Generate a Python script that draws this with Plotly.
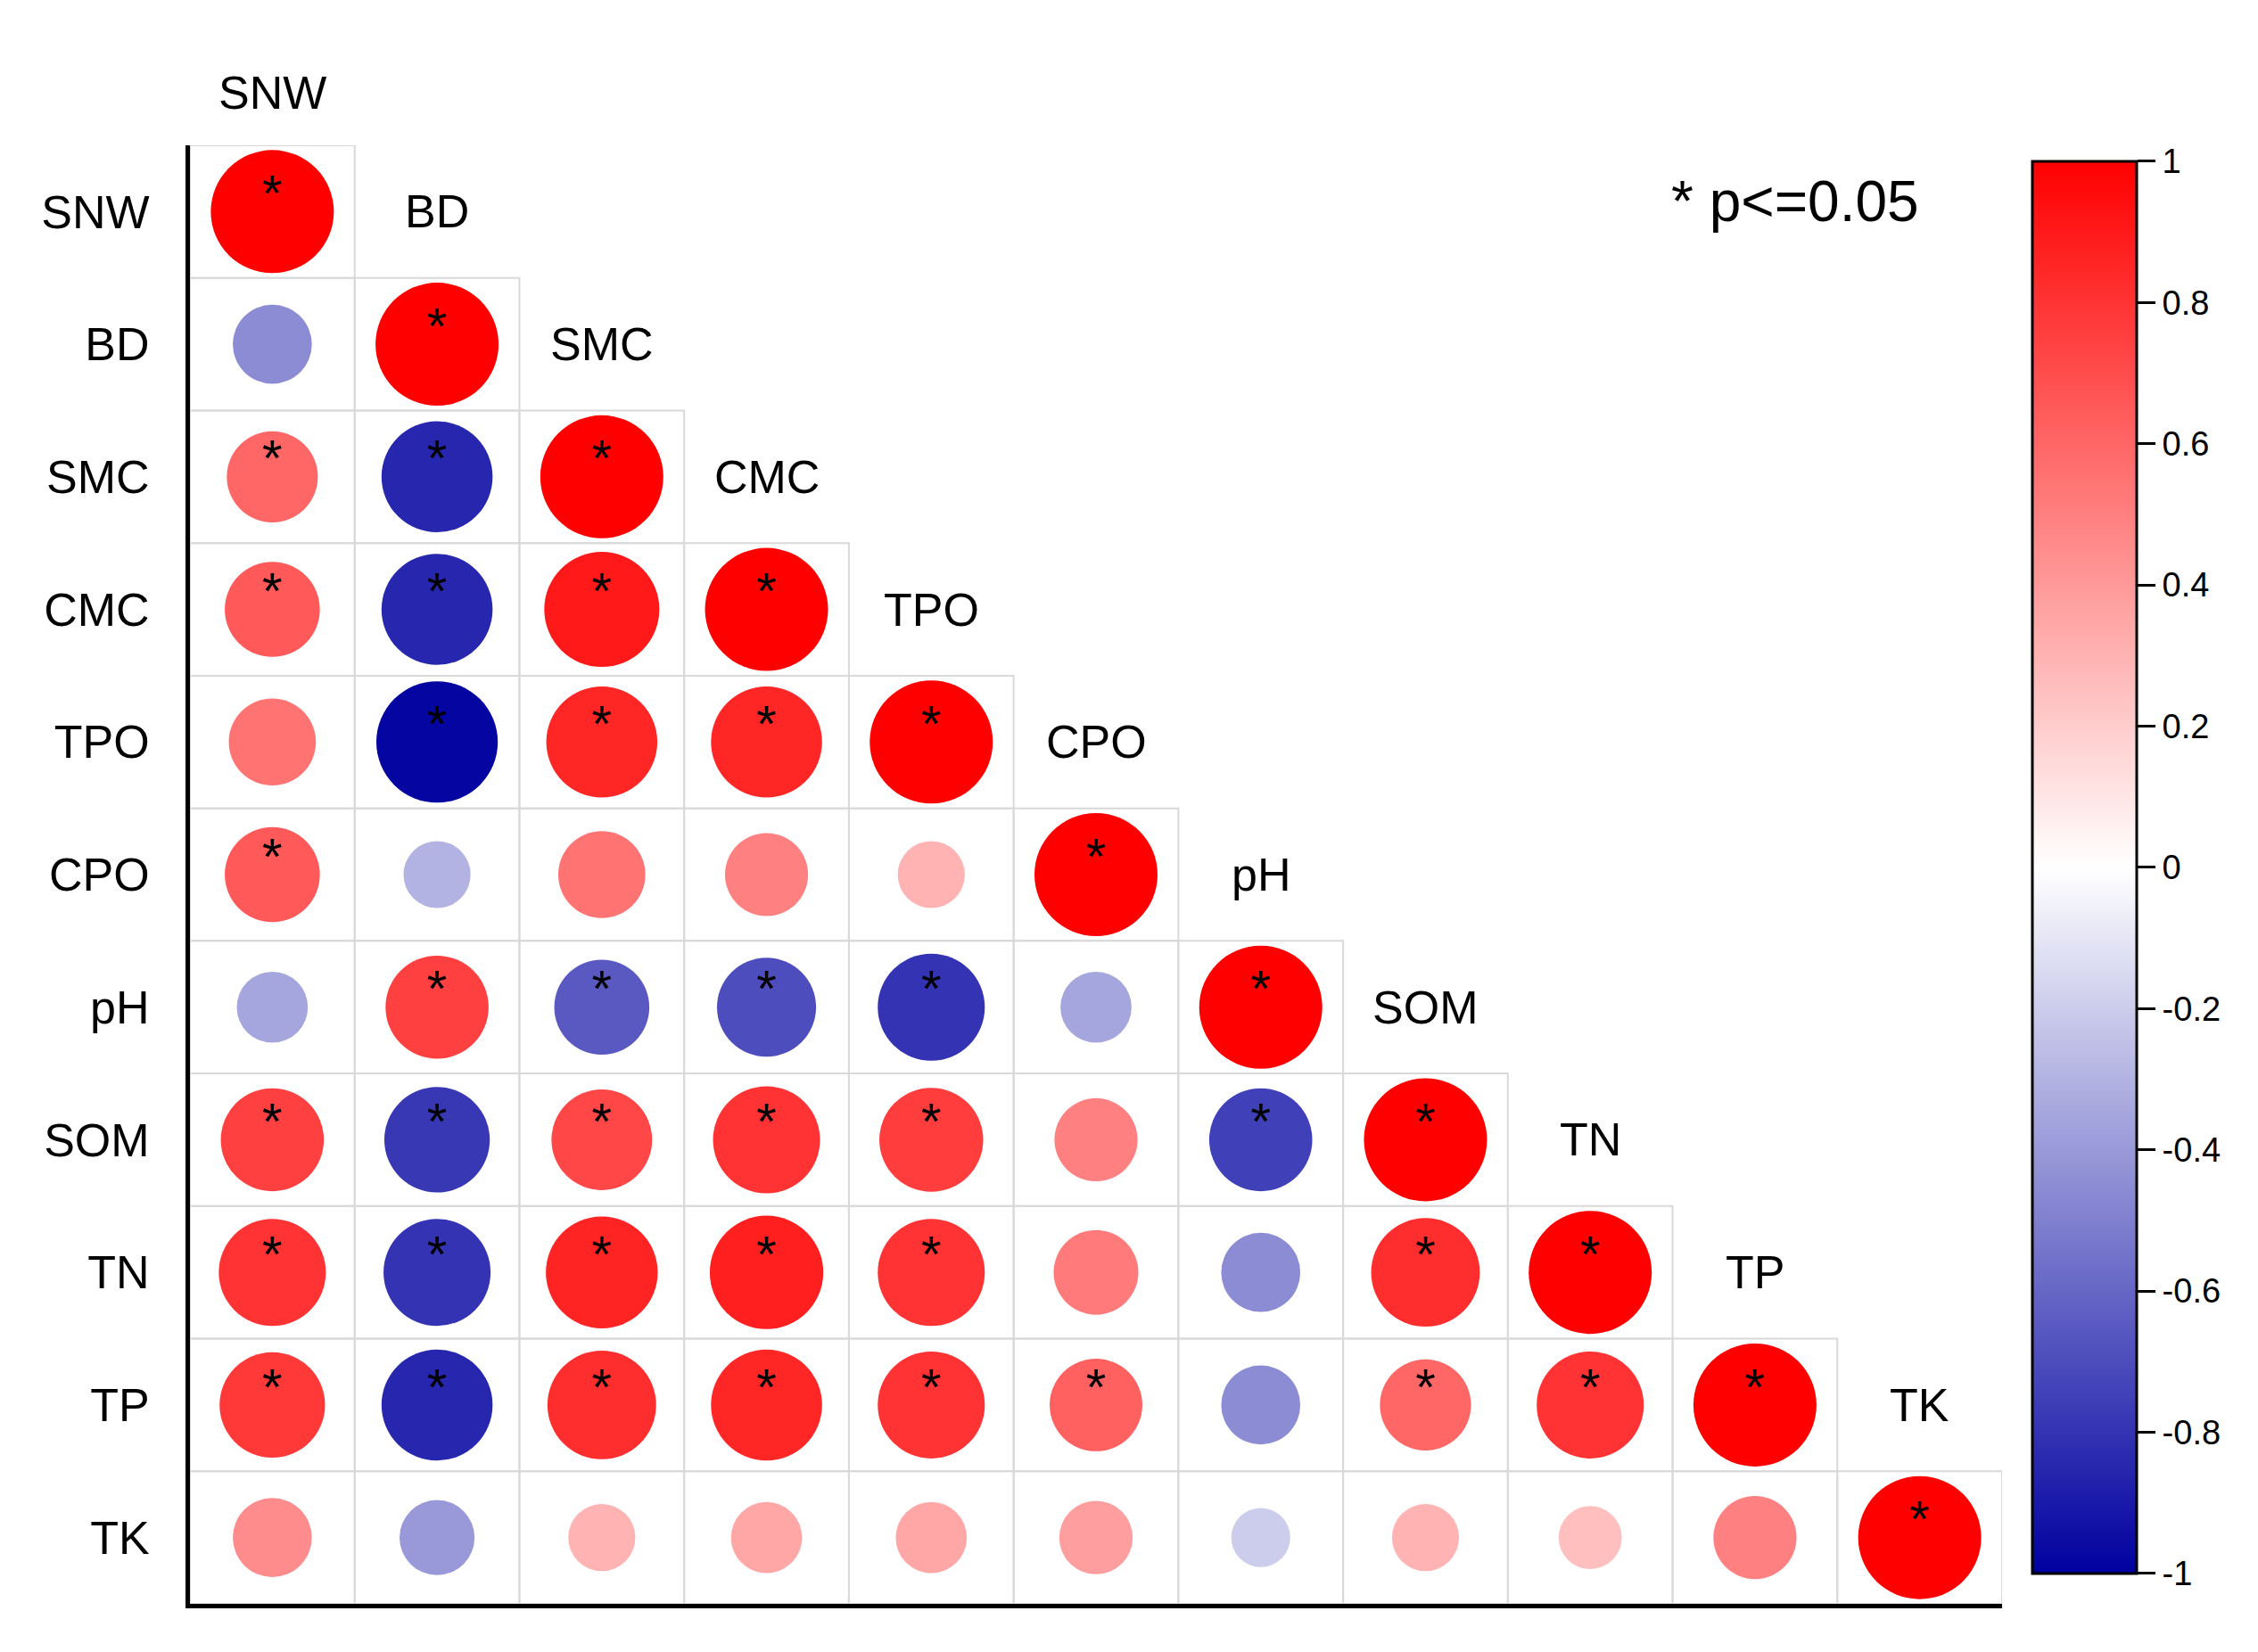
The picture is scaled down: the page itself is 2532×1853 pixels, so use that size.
import plotly.graph_objects as go

labels = ["SNW","BD","SMC","CMC","TPO","CPO","pH","SOM","TN","TP","TK"]
# lower-triangle correlations, row by row (excluding diagonal = 1)
rows = [
    [],
    [-0.45],
    [0.60,-0.85],
    [0.65,-0.85,0.90],
    [0.55,-0.98,0.85,0.85],
    [0.65,-0.30,0.55,0.50,0.30],
    [-0.35,0.75,-0.65,-0.70,-0.80,-0.35],
    [0.75,-0.78,0.72,0.80,0.76,0.50,-0.75],
    [0.80,-0.80,0.86,0.88,0.80,0.52,-0.45,0.82],
    [0.78,-0.85,0.82,0.85,0.80,0.62,-0.45,0.60,0.80],
    [0.45,-0.40,0.30,0.35,0.35,0.38,-0.20,0.30,0.25,0.50],
]
sig = [
    [],
    [0],
    [1,1],
    [1,1,1],
    [0,1,1,1],
    [1,0,0,0,0],
    [0,1,1,1,1,0],
    [1,1,1,1,1,0,1],
    [1,1,1,1,1,0,0,1],
    [1,1,1,1,1,1,0,1,1],
    [0,0,0,0,0,0,0,0,0,0],
]

xs, ys, rs, sx, sy = [], [], [], [], []
for i in range(len(labels)):
    vals = rows[i] + [1.0]
    ss = sig[i] + [1]
    for j, v in enumerate(vals):
        xs.append(j); ys.append(i); rs.append(v)
        if ss[j]:
            sx.append(j); sy.append(i - 0.1)

sizes = [138 * (0.35 + 0.65 * abs(r)) for r in rs]
cs = [[0, "#0000a0"], [0.5, "#ffffff"], [1, "#ff0000"]]

fig = go.Figure()
shapes = []
for i in range(len(labels)):
    for j in range(i + 1):
        shapes.append(dict(type="rect", xref="x", yref="y", x0=j-0.5, x1=j+0.5,
                           y0=i-0.5, y1=i+0.5, line=dict(color="#d9d9d9", width=2),
                           layer="below"))
fig.add_trace(go.Scatter(x=xs, y=ys, mode="markers", hoverinfo="skip",
    marker=dict(size=sizes, color=rs, colorscale=cs, cmin=-1, cmax=1, opacity=1,
        line=dict(width=0),
        colorbar=dict(x=1.012, xanchor="left", y=0.505, yanchor="middle",
            thickness=117, len=1604, lenmode="pixels", outlinecolor="black", outlinewidth=3,
            tickvals=[1,0.8,0.6,0.4,0.2,0,-0.2,-0.4,-0.6,-0.8,-1],
            ticktext=["1","0.8","0.6","0.4","0.2","0","-0.2","-0.4","-0.6","-0.8","-1"],
            ticks="outside", ticklen=20, tickwidth=3, tickcolor="black",
            tickfont=dict(size=38, family="Arial, Liberation Sans", color="black")))))
fig.add_trace(go.Scatter(x=sx, y=sy, mode="text", text=["*"]*len(sx), hoverinfo="skip",
    textfont=dict(size=58, color="black", family="Arial, Liberation Sans")))

ann = []
for k, lab in enumerate(labels):
    if k == 0:
        ann.append(dict(x=0, y=1.055, xref="x", yref="paper", text=lab, showarrow=False,
                        font=dict(size=52, color="black", family="Arial, Liberation Sans")))
    else:
        ann.append(dict(x=k, y=k-1, xref="x", yref="y", text=lab, showarrow=False,
                        font=dict(size=52, color="black", family="Arial, Liberation Sans")))
ann.append(dict(x=0.955, y=0.985, xref="paper", yref="paper", xanchor="right", yanchor="top",
                text="* p<=0.05", showarrow=False,
                font=dict(size=64, color="black", family="Arial, Liberation Sans")))

fig.update_layout(width=2532, height=1853, showlegend=False,
    margin=dict(l=205, r=295, t=155, b=62),
    plot_bgcolor="white", paper_bgcolor="white",
    shapes=shapes, annotations=ann,
    xaxis=dict(range=[-0.5, 10.5], showgrid=False, zeroline=False, showticklabels=False,
               showline=True, linecolor="black", linewidth=5),
    yaxis=dict(range=[10.5, -0.5], showgrid=False, zeroline=False,
               tickmode="array", tickvals=list(range(11)), ticktext=labels,
               tickfont=dict(size=52, color="black", family="Arial, Liberation Sans"),
               ticks="", ticklabelstandoff=30,
               showline=True, linecolor="black", linewidth=5))
fig.write_html("out.html")
